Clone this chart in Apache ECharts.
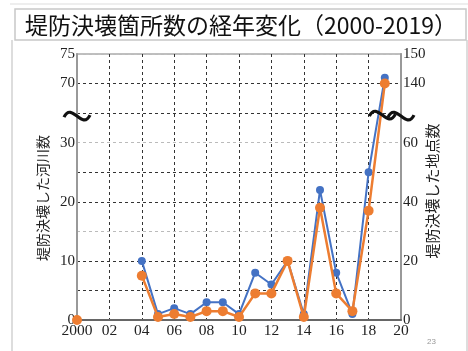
<!DOCTYPE html>
<html><head><meta charset="utf-8">
<script src="https://cdn.jsdelivr.net/npm/echarts@6/dist/echarts.min.js"></script>
<style>html,body{margin:0;padding:0;background:#fff}#c{width:468px;height:351px}</style>
</head><body><div id="c"></div>
<script>
const years = [2000,2001,2002,2003,2004,2005,2006,2007,2008,2009,2010,2011,2012,2013,2014,2015,2016,2017,2018,2019];
const rivers = [0,null,null,null,10,1,2,1,3,3,1,8,6,10,1,22,8,1,25,71];
const locations = [0,null,null,null,15,1,2,1,3,3,1,9,9,20,1,38,9,3,37,140];
const xTickLabels = {2000:'2000',2002:'02',2004:'04',2006:'06',2008:'08',2010:'10',2012:'12',2014:'14',2016:'16',2018:'18',2020:'20'};
const leftTickLabels = {0:'0',10:'10',20:'20',30:'30',40:'70',45:'75'};
const rightTickLabels = {0:'0',10:'20',20:'40',30:'60',40:'140',45:'150'};
const titleText = '堤防決壊箇所数の経年変化（2000-2019）';
const leftName = '堤防決壊した河川数';
const rightName = '堤防決壊した地点数';

// broken axis: 0..30 linear, 30..70 compressed, 70..75 on top
function tLeft(v){ if(v==null) return null; return v<=30 ? v : v-30; }
function tRight(v){ if(v==null) return null; const h=v/2; return h<=30 ? h : h-30; }

const chart = echarts.init(document.getElementById('c'));
const serif = '"Liberation Serif", "Times New Roman", serif';
chart.setOption({
  animation:false,
  grid:{left:77,right:67,top:54,bottom:31,show:true,borderColor:'#aaa',borderWidth:1.5},
  xAxis:{type:'value',min:2000,max:2020,interval:2,
    axisLine:{lineStyle:{color:'#666',width:2}},
    axisTick:{show:false},
    axisLabel:{formatter:v=>xTickLabels[v]||'',color:'#222',fontFamily:serif,fontSize:15.5,margin:3},
    splitLine:{show:true,lineStyle:{color:'#333',type:[3,3],width:1}}},
  yAxis:[
    {type:'value',min:0,max:45,interval:5,position:'left',
     axisLine:{show:true,lineStyle:{color:'#999',width:2}},
     axisTick:{show:false},
     axisLabel:{formatter:v=>leftTickLabels[v]||'',color:'#222',fontFamily:serif,fontSize:15,margin:2},
     splitLine:{show:true,lineStyle:{color:['#bbb','#333','#333'],type:[3,3],width:1}}},
    {type:'value',min:0,max:45,interval:5,position:'right',
     axisLine:{show:true,lineStyle:{color:'#999',width:2}},
     axisTick:{show:false},
     axisLabel:{formatter:v=>rightTickLabels[v]||'',color:'#222',fontFamily:serif,fontSize:15,margin:2},
     splitLine:{show:false}}
  ],
  series:[
    {type:'line',yAxisIndex:0,data:years.map((y,i)=>[y,tLeft(rivers[i])]),
     connectNulls:false,symbol:'circle',symbolSize:8,showSymbol:true,
     itemStyle:{color:'#4472C4'},lineStyle:{color:'#4472C4',width:2},z:3},
    {type:'line',yAxisIndex:0,data:years.map((y,i)=>[y,tRight(locations[i])]),
     connectNulls:false,symbol:'circle',symbolSize:10,showSymbol:true,
     itemStyle:{color:'#ED7D31'},lineStyle:{color:'#ED7D31',width:2.5},z:4}
  ]
});

function tilde(cx,cy){
  return {type:'bezierCurve',z:100,shape:{x1:cx-13,y1:cy+1,cpx1:cx-5,cpy1:cy-15,cpx2:cx+5,cpy2:cy+15,x2:cx+13,y2:cy-1},
    style:{stroke:'#111',lineWidth:3.2,fill:null}};
}
const pL = chart.convertToPixel({gridIndex:0},[2000,35]);
const pM = chart.convertToPixel({gridIndex:0},[2018.85,35]);
const pR = chart.convertToPixel({gridIndex:0},[2020,35]);
chart.setOption({graphic:[
  {type:'line',shape:{x1:10,y1:4,x2:468,y2:4},style:{stroke:'#ddd',lineWidth:1}},
  {type:'line',shape:{x1:12,y1:40,x2:12,y2:351},style:{stroke:'#ddd',lineWidth:2}},
  {type:'line',shape:{x1:467,y1:40,x2:467,y2:351},style:{stroke:'#ddd',lineWidth:2}},
  {type:'rect',shape:{x:15,y:9,width:451,height:31},style:{stroke:'#c8c8c8',lineWidth:1.5,fill:'#fff'}},
  {type:'text',x:25,y:25,style:{text:titleText,font:'23px "Noto Sans CJK JP"',fill:'#111',textVerticalAlign:'middle'}},
  {type:'text',x:43,y:198,rotation:Math.PI/2,style:{text:leftName,font:'14px "Noto Sans CJK JP"',fill:'#222',textAlign:'center',textVerticalAlign:'middle'}},
  {type:'text',x:432,y:191,rotation:Math.PI/2,style:{text:rightName,font:'15px "Noto Sans CJK JP"',fill:'#222',textAlign:'center',textVerticalAlign:'middle'}},
  {type:'text',x:427,y:338,style:{text:'23',font:'8px sans-serif',fill:'#999'}},
  tilde(pL[0],pL[1]+3), tilde(pM[0],pM[1]+2), tilde(pR[0],pR[1]+3)
]});
</script></body></html>
